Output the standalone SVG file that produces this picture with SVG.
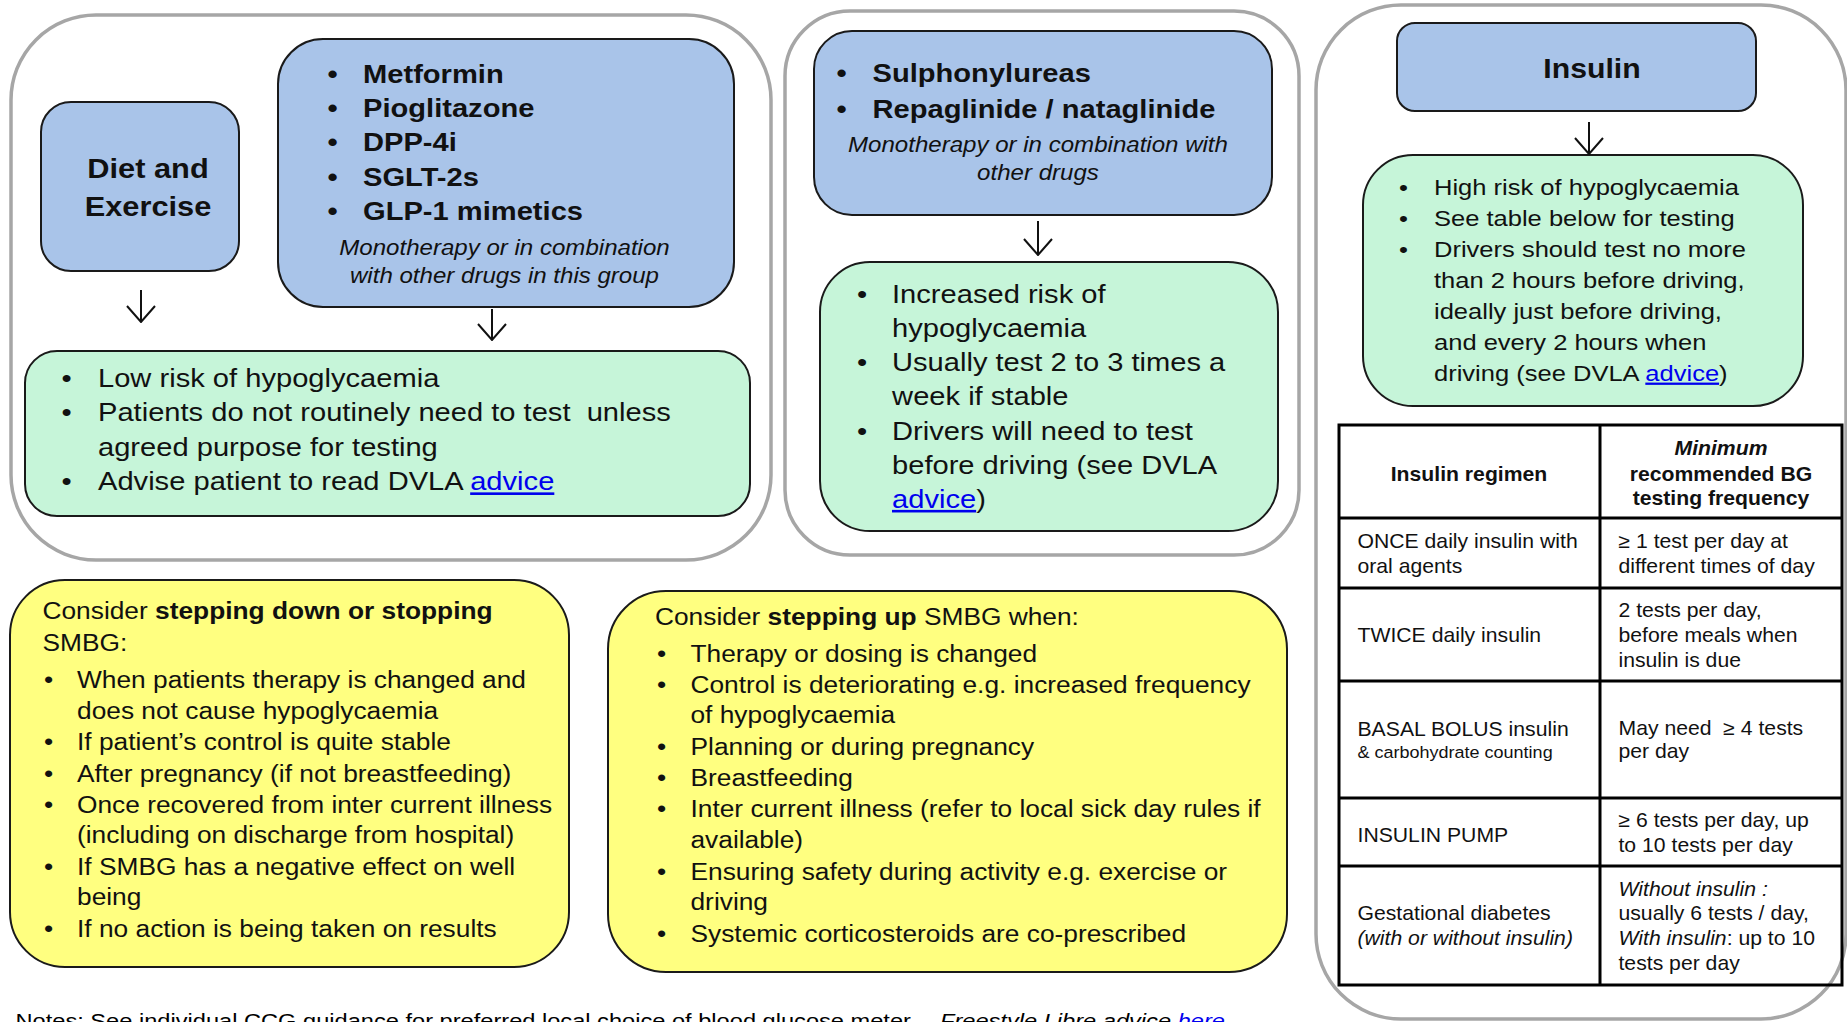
<svg xmlns="http://www.w3.org/2000/svg" width="1847" height="1022" viewBox="0 0 1847 1022">
<defs>
<style>
.outer{fill:#fff;stroke:#a6a6a6;stroke-width:3.5}
.blue{fill:#a9c4e9;stroke:#1a1a1a;stroke-width:2}
.green{fill:#c6f5d9;stroke:#1a1a1a;stroke-width:2}
.yellow{fill:#ffff80;stroke:#1a1a1a;stroke-width:2}
text{font-family:"Liberation Sans",Arial,sans-serif;fill:#111;transform-box:fill-box;transform-origin:0 50%;transform:scaleX(1.12)}
.c{text-anchor:middle;transform-origin:50% 50%}
.b{font-weight:bold}
.i{font-style:italic}
.f26{font-size:26px}
.f27{font-size:27.5px}
.f21{font-size:21.5px}
.f23{font-size:22.8px}
.f24{font-size:23.5px}
.tb{font-size:20px;transform:scaleX(1.06)}
.sm{font-size:17px}
.nt{font-size:21.1px;fill:#000}
.lnk{fill:#0000ee;text-decoration:underline}
.grid{fill:none;stroke:#000;stroke-width:3}
.conn{fill:none;stroke:#111;stroke-width:2}
</style>
<marker id="arr" markerUnits="userSpaceOnUse" viewBox="-1 -15 18 30" refX="16" refY="0" markerWidth="18" markerHeight="30" orient="auto">
<path d="M0,-14 L16,0 L0,14" fill="none" stroke="#111" stroke-width="2"/>
</marker>
</defs>
<rect width="1847" height="1022" fill="#fff"/>

<g id="group-oral-low">
<rect class="outer" x="11" y="15" width="760" height="545" rx="85" ry="85"/>
</g>
<g id="group-oral-high">
<rect class="outer" x="785" y="11" width="514" height="544" rx="65" ry="65"/>
</g>
<g id="group-insulin">
<rect class="outer" x="1316" y="5" width="530" height="1014" rx="85" ry="85"/>
</g>

<g id="node-diet">
<rect class="blue" x="41" y="102" width="198" height="169" rx="30" ry="30"/>
<text class="b f27 c" x="148" y="178">Diet and</text>
<text class="b f27 c" x="148" y="216">Exercise</text>
</g>

<g id="node-metformin">
<rect class="blue" x="278" y="39" width="456" height="268" rx="45" ry="45"/>
<text class="b f26" x="327.5" y="83">•</text>
<text class="b f26" x="327.5" y="117.2">•</text>
<text class="b f26" x="327.5" y="151.4">•</text>
<text class="b f26" x="327.5" y="185.6">•</text>
<text class="b f26" x="327.5" y="219.8">•</text>
<text class="b f26" x="363" y="83">Metformin</text>
<text class="b f26" x="363" y="117.2">Pioglitazone</text>
<text class="b f26" x="363" y="151.4">DPP-4i</text>
<text class="b f26" x="363" y="185.6">SGLT-2s</text>
<text class="b f26" x="363" y="219.8">GLP-1 mimetics</text>
<text class="i f21 c" x="504.5" y="255">Monotherapy or in combination</text>
<text class="i f21 c" x="504.5" y="283">with other drugs in this group</text>
</g>

<g id="node-low-risk">
<rect class="green" x="25" y="351" width="725" height="165" rx="32" ry="32"/>
<text class="f26" x="61.5" y="387">•</text>
<text class="f26" x="61.5" y="421.5">•</text>
<text class="f26" x="61.5" y="490.5">•</text>
<text class="f26" x="98" y="387">Low risk of hypoglycaemia</text>
<text class="f26" x="98" y="421.5">Patients do not routinely need to test&#160; unless</text>
<text class="f26" x="98" y="456">agreed purpose for testing</text>
<text class="f26" x="98" y="490.5">Advise patient to read DVLA <tspan class="lnk">advice</tspan></text>
</g>

<g id="node-sulphonylureas">
<rect class="blue" x="814" y="31" width="458" height="184" rx="38" ry="38"/>
<text class="b f26" x="836.5" y="82">•</text>
<text class="b f26" x="836.5" y="118">•</text>
<text class="b f26" x="872.5" y="82">Sulphonylureas</text>
<text class="b f26" x="872.5" y="118">Repaglinide / nataglinide</text>
<text class="i f21 c" x="1038" y="152">Monotherapy or in combination with</text>
<text class="i f21 c" x="1038" y="180">other drugs</text>
</g>

<g id="node-increased-risk">
<rect class="green" x="820" y="262" width="458" height="269" rx="50" ry="50"/>
<text class="f26" x="857" y="303">•</text>
<text class="f26" x="857" y="371.3">•</text>
<text class="f26" x="857" y="439.7">•</text>
<text class="f26" x="892" y="303">Increased risk of</text>
<text class="f26" x="892" y="337">hypoglycaemia</text>
<text class="f26" x="892" y="371.3">Usually test 2 to 3 times a</text>
<text class="f26" x="892" y="405.5">week if stable</text>
<text class="f26" x="892" y="439.7">Drivers will need to test</text>
<text class="f26" x="892" y="473.8">before driving (see DVLA</text>
<text class="f26" x="892" y="508"><tspan class="lnk">advice</tspan>)</text>
</g>

<g id="node-insulin">
<rect class="blue" x="1397" y="23" width="359" height="88" rx="18" ry="18"/>
<text class="b c" style="font-size:27px" x="1592" y="78">Insulin</text>
</g>

<g id="node-high-risk">
<rect class="green" x="1363" y="155" width="440" height="251" rx="50" ry="50"/>
<text class="f23" x="1399" y="195">•</text>
<text class="f23" x="1399" y="225.7">•</text>
<text class="f23" x="1399" y="257.3">•</text>
<text class="f23" x="1434" y="195">High risk of hypoglycaemia</text>
<text class="f23" x="1434" y="225.7">See table below for testing</text>
<text class="f23" x="1434" y="257.3">Drivers should test no more</text>
<text class="f23" x="1434" y="288.3">than 2 hours before driving,</text>
<text class="f23" x="1434" y="319">ideally just before driving,</text>
<text class="f23" x="1434" y="350">and every 2 hours when</text>
<text class="f23" x="1434" y="380.7">driving (see DVLA <tspan class="lnk">advice</tspan>)</text>
</g>

<g id="node-table">
<rect class="grid" x="1339" y="425" width="503" height="560"/>
<line class="grid" x1="1600" y1="425" x2="1600" y2="985"/>
<line class="grid" x1="1339" y1="518" x2="1842" y2="518"/>
<line class="grid" x1="1339" y1="588" x2="1842" y2="588"/>
<line class="grid" x1="1339" y1="681" x2="1842" y2="681"/>
<line class="grid" x1="1339" y1="798" x2="1842" y2="798"/>
<line class="grid" x1="1339" y1="866" x2="1842" y2="866"/>
<text class="tb b c" x="1469" y="481">Insulin regimen</text>
<text class="tb b i c" x="1721" y="455">Minimum</text>
<text class="tb b c" x="1721" y="481">recommended BG</text>
<text class="tb b c" x="1721" y="505">testing frequency</text>
<text class="tb" x="1357.5" y="548.3">ONCE daily insulin with</text>
<text class="tb" x="1357.5" y="573.3">oral agents</text>
<text class="tb" x="1618.5" y="548.3">≥ 1 test per day at</text>
<text class="tb" x="1618.5" y="573.3">different times of day</text>
<text class="tb" x="1357.5" y="641.7">TWICE daily insulin</text>
<text class="tb" x="1618.5" y="616.7">2 tests per day,</text>
<text class="tb" x="1618.5" y="641.7">before meals when</text>
<text class="tb" x="1618.5" y="666.7">insulin is due</text>
<text class="tb" x="1357.5" y="736.5">BASAL BOLUS insulin</text>
<text class="tb sm" x="1357.5" y="758.5">&amp; carbohydrate counting</text>
<text class="tb" x="1618.5" y="735.5">May need&#160; ≥ 4 tests</text>
<text class="tb" x="1618.5" y="758.5">per day</text>
<text class="tb" x="1357.5" y="841.7">INSULIN PUMP</text>
<text class="tb" x="1618.5" y="826.7">≥ 6 tests per day, up</text>
<text class="tb" x="1618.5" y="852.3">to 10 tests per day</text>
<text class="tb" x="1357.5" y="920">Gestational diabetes</text>
<text class="tb i" x="1357.5" y="945">(with or without insulin)</text>
<text class="tb i" x="1618.5" y="895.7">Without insulin :</text>
<text class="tb" x="1618.5" y="920">usually 6 tests / day,</text>
<text class="tb" x="1618.5" y="945"><tspan class="i">With insulin</tspan>: up to 10</text>
<text class="tb" x="1618.5" y="970">tests per day</text>
</g>

<g id="node-step-down">
<rect class="yellow" x="10" y="580" width="559" height="387" rx="55" ry="55"/>
<text class="f24" x="42.5" y="619.3">Consider <tspan class="b">stepping down or stopping</tspan></text>
<text class="f24" x="42.5" y="650.7">SMBG:</text>
<text class="f24" x="44" y="688.3">•</text>
<text class="f24" x="44" y="750">•</text>
<text class="f24" x="44" y="781.7">•</text>
<text class="f24" x="44" y="812.7">•</text>
<text class="f24" x="44" y="875">•</text>
<text class="f24" x="44" y="936.7">•</text>
<text class="f24" x="77" y="688.3">When patients therapy is changed and</text>
<text class="f24" x="77" y="719.3">does not cause hypoglycaemia</text>
<text class="f24" x="77" y="750">If patient’s control is quite stable</text>
<text class="f24" x="77" y="781.7">After pregnancy (if not breastfeeding)</text>
<text class="f24" x="77" y="812.7">Once recovered from inter current illness</text>
<text class="f24" x="77" y="843.3">(including on discharge from hospital)</text>
<text class="f24" x="77" y="875">If SMBG has a negative effect on well</text>
<text class="f24" x="77" y="905">being</text>
<text class="f24" x="77" y="936.7">If no action is being taken on results</text>
</g>

<g id="node-step-up">
<rect class="yellow" x="608" y="591" width="679" height="381" rx="58" ry="58"/>
<text class="f24" x="655" y="625">Consider <tspan class="b">stepping up</tspan> SMBG when:</text>
<text class="f24" x="657" y="661.7">•</text>
<text class="f24" x="657" y="693.3">•</text>
<text class="f24" x="657" y="755">•</text>
<text class="f24" x="657" y="786">•</text>
<text class="f24" x="657" y="816.7">•</text>
<text class="f24" x="657" y="880">•</text>
<text class="f24" x="657" y="941.7">•</text>
<text class="f24" x="690.5" y="661.7">Therapy or dosing is changed</text>
<text class="f24" x="690.5" y="693.3">Control is deteriorating e.g. increased frequency</text>
<text class="f24" x="690.5" y="723.3">of hypoglycaemia</text>
<text class="f24" x="690.5" y="755">Planning or during pregnancy</text>
<text class="f24" x="690.5" y="786">Breastfeeding</text>
<text class="f24" x="690.5" y="816.7">Inter current illness (refer to local sick day rules if</text>
<text class="f24" x="690.5" y="847.7">available)</text>
<text class="f24" x="690.5" y="880">Ensuring safety during activity e.g. exercise or</text>
<text class="f24" x="690.5" y="910">driving</text>
<text class="f24" x="690.5" y="941.7">Systemic corticosteroids are co-prescribed</text>
</g>

<g id="notes">
<text class="nt" x="15.5" y="1028">Notes: See individual CCG guidance for preferred local choice of blood glucose meter.</text>
<text class="nt i" x="940" y="1028">Freestyle Libre advice <tspan class="lnk">here</tspan></text>
</g>

<g id="connectors">
<path class="conn" d="M141,290 L141,322" marker-end="url(#arr)"/>
<path class="conn" d="M492,309 L492,340" marker-end="url(#arr)"/>
<path class="conn" d="M1038,221 L1038,255" marker-end="url(#arr)"/>
<path class="conn" d="M1589,122 L1589,154" marker-end="url(#arr)"/>
</g>
</svg>
